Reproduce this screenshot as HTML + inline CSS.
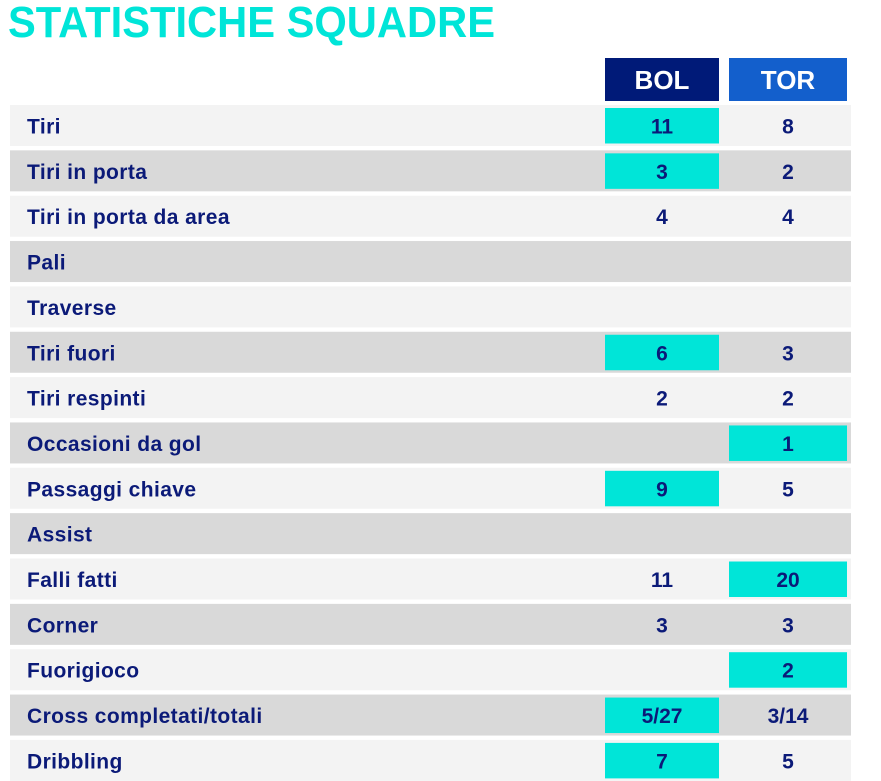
<!DOCTYPE html>
<html><head><meta charset="utf-8"><style>
html,body{margin:0;padding:0;background:#fff;width:881px;height:781px;overflow:hidden}
svg{display:block}
text{font-family:"Liberation Sans",sans-serif;font-weight:bold}
.l{fill:#0b1a78;font-size:21px;letter-spacing:0.4px}
.v{fill:#0b1a78;font-size:21px;text-anchor:middle}
</style></head><body>
<svg width="881" height="781" xmlns="http://www.w3.org/2000/svg">
<text x="8" y="37" fill="#00e5d8" font-size="44" textLength="487" lengthAdjust="spacingAndGlyphs">STATISTICHE SQUADRE</text>
<rect x="605" y="58" width="114" height="43" fill="#001a78"/>
<rect x="729" y="58" width="118" height="43" fill="#135fcc"/>
<text x="662" y="89" fill="#fff" font-size="26" text-anchor="middle">BOL</text>
<text x="788" y="89" fill="#fff" font-size="26" text-anchor="middle">TOR</text>
<g id="rows"></g>
</svg>
<script>
var d=[["Tiri","11","8",1,0],["Tiri in porta","3","2",1,0],["Tiri in porta da area","4","4",0,0],["Pali","","",0,0],["Traverse","","",0,0],["Tiri fuori","6","3",1,0],["Tiri respinti","2","2",0,0],["Occasioni da gol","","1",0,1],["Passaggi chiave","9","5",1,0],["Assist","","",0,0],["Falli fatti","11","20",0,1],["Corner","3","3",0,0],["Fuorigioco","","2",0,1],["Cross completati/totali","5/27","3/14",1,0],["Dribbling","7","5",1,0]];
var s="";
d.forEach(function(r,i){var y=105+i*45.35;
s+='<rect x="10" y="'+y+'" width="841" height="41" fill="'+(i%2?'#d9d9d9':'#f3f3f3')+'"/>';
if(r[3])s+='<rect x="605" y="'+(y+3)+'" width="114" height="35.5" fill="#00e5d8"/>';
if(r[4])s+='<rect x="729" y="'+(y+3)+'" width="118" height="35.5" fill="#00e5d8"/>';
s+='<text class="l" x="27" y="'+(y+28.5)+'">'+r[0]+'</text>';
s+='<text class="v" x="662" y="'+(y+28.5)+'">'+r[1]+'</text>';
s+='<text class="v" x="788" y="'+(y+28.5)+'">'+r[2]+'</text>';});
document.getElementById("rows").outerHTML=s;
</script>
</body></html>
